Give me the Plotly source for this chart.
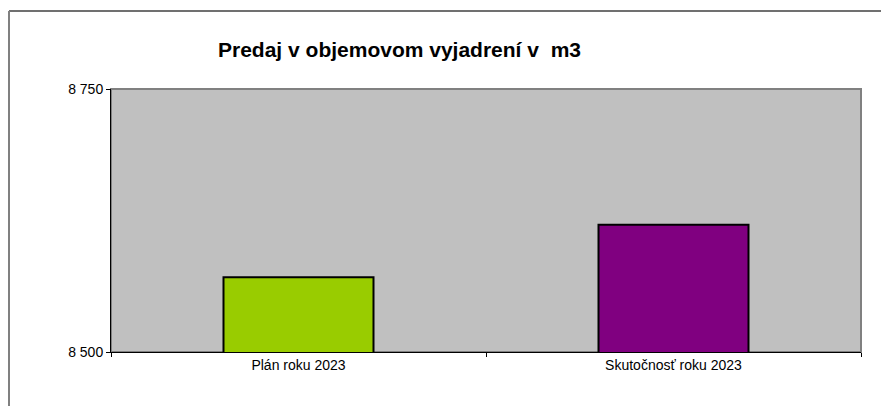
import plotly.graph_objects as go

categories = ["Plán roku 2023", "Skutočnosť roku 2023"]
values = [8571, 8621]
colors = ["#99CC00", "#800080"]
title_text = "Predaj v objemovom vyjadrení v  m3"
y_ticks = [8500, 8750]
y_ticklabels = ["8 500", "8 750"]

W, H = 881, 406
L, R, T, B = 111, 861, 89, 352

def px_x(p):
    return (p - L) / (R - L)

def px_y(p):
    return (B - p) / (B - T)

fig = go.Figure(go.Bar(
    x=categories, y=values,
    marker=dict(color=colors, line=dict(color="black", width=2)),
    width=0.4,
))

fig.update_layout(
    width=W, height=H,
    margin=dict(l=L, r=W - R, t=T, b=H - B),
    paper_bgcolor="white", plot_bgcolor="#C0C0C0",
    font=dict(family="Liberation Sans, Arial", size=14, color="black"),
    showlegend=False,
    annotations=[dict(
        text="<b>" + title_text + "</b>", xref="paper", yref="paper",
        x=px_x(399), y=px_y(49), xanchor="center", yanchor="middle",
        showarrow=False, font=dict(size=21, family="Liberation Sans, Arial"),
    )],
    shapes=[
        dict(type="rect", xref="paper", yref="paper", x0=0, x1=1, y0=0, y1=1,
             line=dict(color="#808080", width=2), layer="below"),
        dict(type="line", xref="paper", yref="paper", x0=px_x(9), x1=px_x(890),
             y0=px_y(11), y1=px_y(11), line=dict(color="#404040", width=1.5)),
        dict(type="line", xref="paper", yref="paper", x0=px_x(9), x1=px_x(9),
             y0=px_y(11), y1=px_y(420), line=dict(color="#808080", width=2)),
    ],
)

fig.update_xaxes(
    type="category", showline=True, linecolor="black", linewidth=1,
    ticks="outside", ticklen=4, tickcolor="black", tickson="boundaries",
    showgrid=False, tickfont=dict(size=14),
)
fig.update_yaxes(
    range=[8500, 8750], tickvals=y_ticks, ticktext=y_ticklabels,
    showline=True, linecolor="black", linewidth=1,
    ticks="outside", ticklen=4, tickcolor="black",
    showgrid=False, zeroline=False, tickfont=dict(size=14),
)

fig.write_html("out.html", config={"displayModeBar": False},
               post_script="document.body.style.margin='0';")
